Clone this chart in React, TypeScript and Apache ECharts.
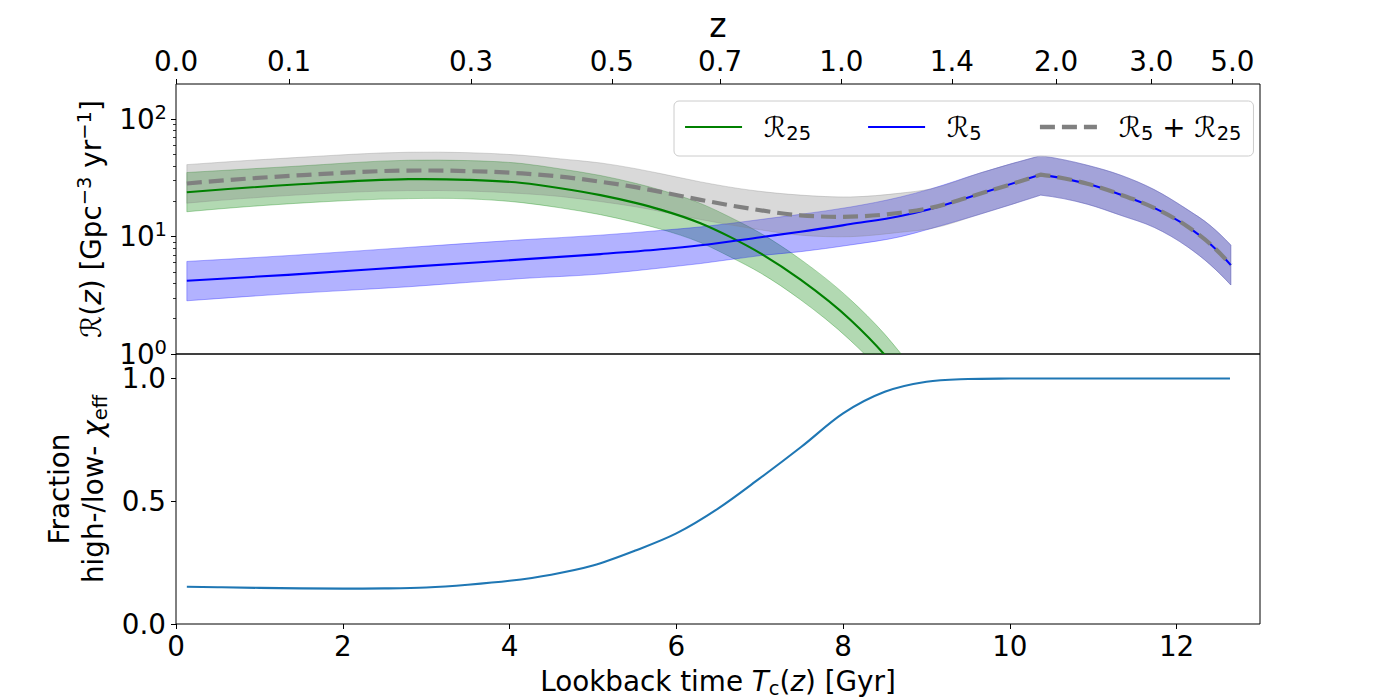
import React, { useEffect, useRef } from "react";
import * as echarts from "echarts";

// ---------- data ----------
// Lookback time [Gyr] grids
const tR25 = [0.13, 1.43, 2.79, 3.5, 4.15, 4.61, 5.09, 5.51, 5.81, 6.29, 6.65, 7.01, 7.49, 8.09, 8.49, 8.75, 9.0];
const r25Mid = [23.9, 27.8, 30.9, 30.5, 28.7, 25.9, 22.6, 19.4, 17.0, 13.0, 9.9, 7.2, 4.3, 1.95, 1.0, 0.6, 0.36];
const r25Hi = [35.2, 39.8, 44.8, 44.5, 42.0, 37.8, 33.2, 28.5, 25.0, 19.2, 14.6, 10.7, 6.4, 2.9, 1.5, 0.9, 0.54];
const r25Lo = [16.3, 19.2, 21.1, 21.0, 19.5, 17.6, 15.4, 13.2, 11.6, 8.9, 6.7, 4.9, 2.9, 1.3, 0.67, 0.4, 0.24];

const tR5 = [0.13, 1.43, 2.79, 4.15, 5.09, 5.81, 6.29, 7.01, 7.49, 8.09, 8.69, 9.05, 9.65, 10.37, 10.93, 11.33, 11.73, 12.13, 12.4, 12.65];
const r5Mid = [4.21, 4.77, 5.53, 6.4, 7.1, 7.8, 8.45, 9.9, 11.0, 12.8, 15.0, 17.2, 23.3, 33.8, 28.2, 22.8, 17.6, 12.2, 8.7, 5.72];
const r5Hi = [6.15, 6.96, 8.1, 9.4, 10.3, 11.3, 12.1, 14.0, 15.5, 17.9, 21.8, 25.5, 35.0, 49.0, 40.6, 33.4, 25.2, 17.0, 12.5, 8.47];
const r5Lo = [2.84, 3.29, 3.74, 4.4, 4.8, 5.4, 5.9, 6.9, 7.45, 8.5, 10.0, 11.7, 15.6, 22.6, 18.9, 15.2, 12.0, 8.2, 5.8, 3.87];

const tSum = [0.13, 1.43, 2.79, 3.5, 4.15, 4.61, 5.09, 5.51, 5.81, 6.29, 6.89, 7.49, 8.09, 8.69, 9.05, 9.65, 10.37, 10.93, 11.33, 11.73, 12.13, 12.4, 12.65];
const sumMid = [28.4, 33.2, 36.6, 36.2, 34.6, 32.5, 29.4, 26.4, 24.1, 20.6, 17.3, 15.2, 14.8, 16.0, 17.6, 23.3, 33.8, 28.2, 22.8, 17.6, 12.2, 8.7, 5.72];
const sumHi = [41.1, 47.2, 52.4, 52.0, 49.4, 46.0, 42.5, 38.0, 34.5, 29.3, 24.9, 22.6, 21.8, 23.5, 25.5, 35.0, 49.0, 40.6, 33.4, 25.2, 17.0, 12.5, 8.47];
const sumLo = [19.3, 22.6, 24.7, 24.5, 23.3, 22.0, 19.9, 18.0, 16.4, 14.0, 11.8, 10.3, 10.0, 10.9, 11.7, 15.6, 22.6, 18.9, 15.2, 12.0, 8.2, 5.8, 3.87];

// lookback time of the sharp peak (kink) in R5 and in the sum
const tPeak = 10.37;

const tFrac = [0.13, 0.5, 1.0, 1.5, 2.0, 2.5, 3.0, 3.5, 4.0, 4.5, 5.0, 5.5, 6.0, 6.5, 7.0, 7.5, 8.0, 8.5, 9.0, 9.5, 10.0, 11.0, 12.0, 12.64];
const frac = [0.152, 0.15, 0.147, 0.145, 0.144, 0.145, 0.149, 0.16, 0.176, 0.201, 0.238, 0.298, 0.369, 0.47, 0.593, 0.722, 0.858, 0.946, 0.987, 0.998, 1.0, 1.0, 1.0, 1.0];

// Tick labels
const zLabels = ["0.0", "0.1", "0.3", "0.5", "0.7", "1.0", "1.4", "2.0", "3.0", "5.0"];
const zLookback = [0, 1.355, 3.538, 5.226, 6.526, 7.98, 9.305, 10.554, 11.698, 12.668];
const xTicks = [0, 2, 4, 6, 8, 10, 12];
const fracTicks = [0, 0.5, 1.0];
const logTicks = [1, 10, 100];
const logMinorTicks = [2, 3, 4, 5, 6, 7, 8, 9, 20, 30, 40, 50, 60, 70, 80, 90];

// ---------- styling ----------
const FONT = "'DejaVu Sans', sans-serif";
const FS = 27.8;
const FS_SMALL = 19.5;
const base = { fontFamily: FONT, color: "#000" };

const richName = {
  n: { ...base, fontSize: FS, lineHeight: 34 },
  it: { ...base, fontSize: FS, lineHeight: 34, fontStyle: "italic" },
  sup: { ...base, fontSize: FS_SMALL, lineHeight: 20, verticalAlign: "top" },
  sub: { ...base, fontSize: FS_SMALL, lineHeight: 20, verticalAlign: "bottom" },
};

const richLog = {
  b: { ...base, fontSize: FS, lineHeight: 34 },
  s: { ...base, fontSize: FS_SMALL, lineHeight: 18, verticalAlign: "top" },
};

const richLegend = {
  r0: { ...base, fontSize: FS, lineHeight: 32, padding: [0, 0, 0, 17] },
  n: { ...base, fontSize: FS, lineHeight: 32 },
  s: { ...base, fontSize: FS_SMALL, lineHeight: 18, verticalAlign: "bottom" },
};

const legendText: Record<string, string> = {
  r25: "{r0|ℛ}{s|25}",
  r5: "{r0|ℛ}{s|5}",
  sum: "{r0|ℛ}{s|5}{n| + ℛ}{s|25}",
};

const GREEN = "#008000";
const BLUE = "#0000ff";
const GREY = "#808080";
const FRAC_BLUE = "#1f77b4";
const DASH = [15, 7];

// ---------- smooth drawing helpers (pixel space, cubic Hermite in x) ----------
type P = number[];
function slopesOf(pts: P[], breaks: Set<number>) {
  const n = pts.length;
  const sec: number[] = [];
  for (let i = 0; i < n - 1; i++) {
    const dx = pts[i + 1][0] - pts[i][0];
    sec.push(dx === 0 ? 0 : (pts[i + 1][1] - pts[i][1]) / dx);
  }
  const startSlope = (i: number) => {
    if (i === 0 || breaks.has(i)) {
      if (i + 2 < n && !breaks.has(i + 1)) {
        const dx01 = pts[i + 1][0] - pts[i][0];
        const span = pts[i + 2][0] - pts[i][0];
        return sec[i] - ((sec[i + 1] - sec[i]) * dx01) / span;
      }
      return sec[i];
    }
    const dx01 = pts[i][0] - pts[i - 1][0];
    const span = pts[i + 1][0] - pts[i - 1][0];
    return sec[i - 1] + ((sec[i] - sec[i - 1]) * dx01) / span;
  };
  const endSlope = (i: number) => {
    const j = i + 1;
    if (j === n - 1 || breaks.has(j)) {
      if (i - 1 >= 0 && !breaks.has(i)) {
        const dx = pts[j][0] - pts[i][0];
        const span = pts[j][0] - pts[i - 1][0];
        return sec[i] + ((sec[i] - sec[i - 1]) * dx) / span;
      }
      return sec[i];
    }
    const dx01 = pts[j][0] - pts[j - 1][0];
    const span = pts[j + 1][0] - pts[j - 1][0];
    return sec[j - 1] + ((sec[j] - sec[j - 1]) * dx01) / span;
  };
  return { startSlope, endSlope };
}

function curveCommands(pts: P[], breaks: Set<number>): string {
  const { startSlope, endSlope } = slopesOf(pts, breaks);
  let d = "";
  for (let i = 0; i < pts.length - 1; i++) {
    const [x0, y0] = pts[i];
    const [x1, y1] = pts[i + 1];
    const h = (x1 - x0) / 3;
    const m0 = startSlope(i);
    const m1 = endSlope(i);
    d += ` C${(x0 + h).toFixed(2)},${(y0 + m0 * h).toFixed(2)} ${(x1 - h).toFixed(2)},${(y1 - m1 * h).toFixed(2)} ${x1.toFixed(2)},${y1.toFixed(2)}`;
  }
  return d;
}

function clipOf(params: any) {
  const cs = params.coordSys;
  return { type: "rect", shape: { x: cs.x, y: cs.y, width: cs.width, height: cs.height } };
}

function band(name: string, t: number[], lo: number[], hi: number[], color: string, z: number, kinkAt?: number) {
  return {
    type: "custom",
    name,
    xAxisIndex: 0,
    yAxisIndex: 0,
    z,
    silent: true,
    data: t.map((x, i) => [x, lo[i], hi[i]]),
    encode: { x: 0, y: [1, 2] },
    renderItem: (params: any, api: any) => {
      if (params.dataIndex !== 0) return null;
      const n = t.length;
      const k = kinkAt == null ? -1 : t.indexOf(kinkAt);
      const upper = t.map((x, i) => api.coord([x, hi[i]]));
      const lower = t.map((x, i) => api.coord([x, lo[i]])).reverse();
      const bU = new Set<number>(k >= 0 ? [k] : []);
      const bL = new Set<number>(k >= 0 ? [n - 1 - k] : []);
      const d =
        `M${upper[0][0].toFixed(2)},${upper[0][1].toFixed(2)}` +
        curveCommands(upper, bU) +
        ` L${lower[0][0].toFixed(2)},${lower[0][1].toFixed(2)}` +
        curveCommands(lower, bL) +
        " Z";
      return {
        type: "path",
        shape: { pathData: d },
        style: { fill: color, stroke: color, lineWidth: 1 },
        clipPath: clipOf(params),
      };
    },
  };
}

function curve(
  name: string,
  t: number[],
  v: number[],
  stroke: string,
  width: number,
  z: number,
  opts: { dash?: number[]; kinkAt?: number; xAxisIndex?: number; yAxisIndex?: number } = {}
) {
  return {
    type: "custom",
    name,
    xAxisIndex: opts.xAxisIndex ?? 0,
    yAxisIndex: opts.yAxisIndex ?? 0,
    z,
    silent: true,
    data: t.map((x, i) => [x, v[i]]),
    encode: { x: 0, y: 1 },
    renderItem: (params: any, api: any) => {
      if (params.dataIndex !== 0) return null;
      const pts = t.map((x, i) => api.coord([x, v[i]]));
      const k = opts.kinkAt == null ? -1 : t.indexOf(opts.kinkAt);
      const d = `M${pts[0][0].toFixed(2)},${pts[0][1].toFixed(2)}` + curveCommands(pts, new Set<number>(k >= 0 ? [k] : []));
      const style: any = { fill: "none", stroke, lineWidth: width };
      if (opts.dash) style.lineDash = opts.dash;
      return { type: "path", shape: { pathData: d }, style, clipPath: clipOf(params) };
    },
  };
}

// legend-only series (empty data) carrying the line styles
function legendSeries(name: string, lineStyle: any) {
  return {
    type: "line",
    name,
    xAxisIndex: 0,
    yAxisIndex: 0,
    data: [],
    symbol: "none",
    lineStyle,
    itemStyle: { color: lineStyle.color },
  };
}

const tickStyle = { show: true, inside: false, length: 5, lineStyle: { color: "#000", width: 1 } };

export default function App() {
  const ref = useRef<HTMLDivElement>(null);

  useEffect(() => {
    if (!ref.current) return;
    const chart = echarts.init(ref.current, undefined, { renderer: "svg" });
    const option: any = {
      animation: false,
      backgroundColor: "#fff",
      textStyle: { fontFamily: FONT },
      grid: [
        { left: 176, top: 84, width: 1084, height: 270, show: true, borderColor: "#000", borderWidth: 1, backgroundColor: "transparent", outerBoundsMode: "none" },
        { left: 176, top: 354, width: 1084, height: 270, show: true, borderColor: "#000", borderWidth: 1, backgroundColor: "transparent", outerBoundsMode: "none" },
      ],
      legend: {
        show: true,
        selectedMode: false,
        data: [
          { name: "r25", lineStyle: { color: GREEN, width: 2.1 } },
          { name: "r5", lineStyle: { color: BLUE, width: 2.1 } },
          { name: "sum", lineStyle: { color: GREY, width: 4.5, type: DASH } },
        ],
        left: 674,
        top: 101,
        orient: "horizontal",
        itemWidth: 57,
        itemHeight: 14,
        itemGap: 56,
        padding: [12, 12, 13, 10],
        borderColor: "#cccccc",
        borderWidth: 1,
        borderRadius: 5,
        backgroundColor: "rgba(255,255,255,0.8)",
        itemStyle: { opacity: 0, borderWidth: 0 },
        formatter: (name: string) => legendText[name],
        textStyle: { ...base, fontSize: FS, rich: richLegend },
      },
      xAxis: [
        {
          gridIndex: 0,
          type: "value",
          position: "top",
          min: 0,
          max: 13,
          name: "z",
          nameLocation: "middle",
          nameGap: 42,
          nameTextStyle: { ...base, fontSize: 33 },
          axisLine: { show: false },
          splitLine: { show: false },
          axisTick: { ...tickStyle, customValues: zLookback },
          axisLabel: {
            show: true,
            customValues: zLookback,
            formatter: (v: number) => {
              const i = zLookback.findIndex((x) => Math.abs(x - v) < 1e-6);
              return i >= 0 ? zLabels[i] : "";
            },
            ...base,
            fontSize: FS,
            margin: 9,
          },
        },
        {
          gridIndex: 1,
          type: "value",
          position: "bottom",
          min: 0,
          max: 13,
          name: "Lookback time {it|T}{sub|c}{n|(}{it|z}{n|) [Gyr]}",
          nameLocation: "middle",
          nameGap: 40,
          nameTextStyle: { ...base, fontSize: FS, lineHeight: 34, rich: richName },
          axisLine: { show: false },
          splitLine: { show: false },
          axisTick: { ...tickStyle, customValues: xTicks },
          axisLabel: { show: true, customValues: xTicks, formatter: (v: number) => String(v), ...base, fontSize: FS, margin: 8 },
        },
      ],
      yAxis: [
        {
          gridIndex: 0,
          type: "log",
          logBase: 10,
          position: "left",
          min: 1,
          max: 200,
          name: "{n|ℛ(}{it|z}{n|) [Gpc}{sup|−3}{n| yr}{sup|−1}{n|]}",
          nameLocation: "middle",
          nameRotate: 90,
          nameGap: 68,
          nameTextStyle: { ...base, fontSize: FS, lineHeight: 34, rich: richName },
          axisLine: { show: false },
          splitLine: { show: false },
          axisTick: { ...tickStyle, customValues: logTicks },
          axisLabel: {
            show: true,
            customValues: logTicks,
            formatter: (v: number) => `{b|10}{s|${Math.round(Math.log10(v))}}`,
            rich: richLog,
            margin: 9,
          },
        },
        {
          gridIndex: 0,
          type: "log",
          logBase: 10,
          position: "left",
          min: 1,
          max: 200,
          axisLine: { show: false },
          splitLine: { show: false },
          axisTick: { show: true, inside: false, length: 3, lineStyle: { color: "#000", width: 0.8 }, customValues: logMinorTicks },
          axisLabel: { show: false },
        },
        {
          gridIndex: 1,
          type: "value",
          position: "left",
          min: 0,
          max: 1.1,
          name: "{n|Fraction}\n{n|high-/low- }{it|χ}{sub|eff}",
          nameLocation: "middle",
          nameRotate: 90,
          nameGap: 64,
          nameTextStyle: { ...base, fontSize: FS, lineHeight: 34, rich: richName },
          axisLine: { show: false },
          splitLine: { show: false },
          axisTick: { ...tickStyle, customValues: fracTicks },
          axisLabel: { show: true, customValues: fracTicks, formatter: (v: number) => v.toFixed(1), ...base, fontSize: FS, margin: 10 },
        },
      ],
      series: [
        band("r25band", tR25, r25Lo, r25Hi, "rgba(0,128,0,0.3)", 1),
        band("r5band", tR5, r5Lo, r5Hi, "rgba(0,0,255,0.3)", 2, tPeak),
        band("sumband", tSum, sumLo, sumHi, "rgba(128,128,128,0.3)", 3, tPeak),
        curve("r25line", tR25, r25Mid, GREEN, 2.1, 4),
        curve("r5line", tR5, r5Mid, BLUE, 2.1, 5, { kinkAt: tPeak }),
        curve("sumline", tSum, sumMid, GREY, 4.2, 6, { dash: DASH, kinkAt: tPeak }),
        legendSeries("r25", { color: GREEN, width: 2.1 }),
        legendSeries("r5", { color: BLUE, width: 2.1 }),
        legendSeries("sum", { color: GREY, width: 4.5, type: DASH }),
        curve("frac", tFrac, frac, FRAC_BLUE, 2.1, 4, { xAxisIndex: 1, yAxisIndex: 2 }),
      ],
    };
    chart.setOption(option);
    return () => chart.dispose();
  }, []);

  return (
    <div
      ref={ref}
      style={{ position: "fixed", left: 0, top: 0, width: 1400, height: 700, background: "#fff" }}
    />
  );
}
